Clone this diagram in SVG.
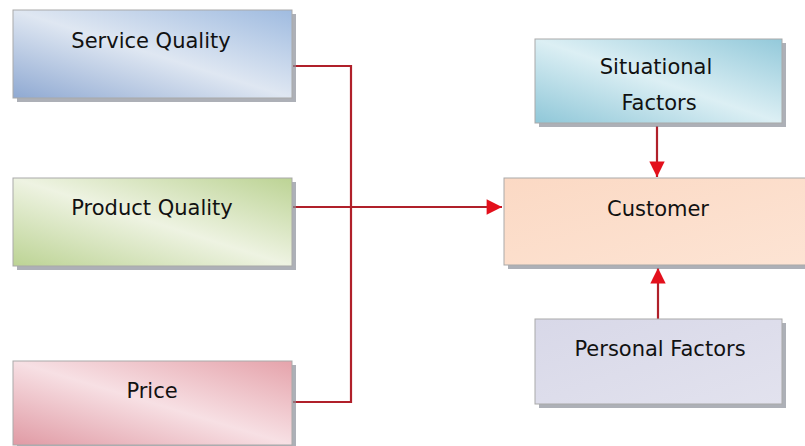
<svg xmlns="http://www.w3.org/2000/svg" width="805" height="446" viewBox="0 0 805 446">
<style>
.lbl{font-family:"DejaVu Sans","Liberation Sans",sans-serif;font-size:21px;fill:#111;text-anchor:middle}
.shadow{fill:#8a8f98;opacity:0.7}
.edge{stroke:#a9a9a9;stroke-width:1}
.conn{fill:none;stroke:#b0202a;stroke-width:2.2}
</style>
<defs>
<linearGradient id="gBlue" x1="0" y1="1" x2="1" y2="0"><stop offset="0" stop-color="#8fa9d2"/><stop offset="0.5" stop-color="#dfe7f2"/><stop offset="1" stop-color="#9fbbe0"/></linearGradient>
<linearGradient id="gGreen" x1="0" y1="1" x2="1" y2="0"><stop offset="0" stop-color="#bcd394"/><stop offset="0.5" stop-color="#eef3e2"/><stop offset="1" stop-color="#bcd394"/></linearGradient>
<linearGradient id="gRed" x1="0" y1="1" x2="1" y2="0"><stop offset="0" stop-color="#e09aa4"/><stop offset="0.5" stop-color="#f7e0e4"/><stop offset="1" stop-color="#e5a3ab"/></linearGradient>
<linearGradient id="gCyan" x1="0" y1="1" x2="1" y2="0"><stop offset="0" stop-color="#8fc7d8"/><stop offset="0.5" stop-color="#dceff4"/><stop offset="1" stop-color="#93c9da"/></linearGradient>
<linearGradient id="gPeach" x1="0" y1="0" x2="1" y2="1"><stop offset="0" stop-color="#fbd9c4"/><stop offset="1" stop-color="#fde4d4"/></linearGradient>
<linearGradient id="gLav" x1="0" y1="0" x2="1" y2="1"><stop offset="0" stop-color="#d8d8e8"/><stop offset="1" stop-color="#e2e2ee"/></linearGradient>
<marker id="arr" viewBox="0 0 10 10" refX="10" refY="5" markerWidth="7.5" markerHeight="7" markerUnits="strokeWidth" orient="auto"><path d="M0,0 L10,5 L0,10 z" fill="#e3101c"/></marker>
</defs>
<g id="connectors">
<polyline class="conn" points="293,66 351,66 351,402 293,402"/>
<line class="conn" x1="293" y1="207" x2="502" y2="207" marker-end="url(#arr)"/>
<line class="conn" x1="657" y1="126" x2="657" y2="177" marker-end="url(#arr)"/>
<line class="conn" x1="658" y1="319" x2="658" y2="268" marker-end="url(#arr)"/>
</g>
<g id="service-quality">
<rect class="shadow" x="17" y="14" width="279" height="88"/>
<rect class="edge" x="13" y="10" width="279" height="88" fill="url(#gBlue)"/>
<text class="lbl" x="151" y="48">Service Quality</text>
</g>
<g id="product-quality">
<rect class="shadow" x="17" y="182" width="279" height="88"/>
<rect class="edge" x="13" y="178" width="279" height="88" fill="url(#gGreen)"/>
<text class="lbl" x="152" y="215">Product Quality</text>
</g>
<g id="price">
<rect class="shadow" x="17" y="365" width="279" height="84"/>
<rect class="edge" x="13" y="361" width="279" height="84" fill="url(#gRed)"/>
<text class="lbl" x="152" y="398">Price</text>
</g>
<g id="situational-factors">
<rect class="shadow" x="539" y="43" width="247" height="84"/>
<rect class="edge" x="535" y="39" width="247" height="84" fill="url(#gCyan)"/>
<text class="lbl" x="656" y="74">Situational</text>
<text class="lbl" x="659" y="110">Factors</text>
</g>
<g id="customer">
<rect class="shadow" x="508" y="182" width="310" height="87"/>
<rect class="edge" x="504" y="178" width="310" height="87" fill="url(#gPeach)"/>
<text class="lbl" x="658" y="216">Customer</text>
</g>
<g id="personal-factors">
<rect class="shadow" x="539" y="323" width="247" height="85"/>
<rect class="edge" x="535" y="319" width="247" height="85" fill="url(#gLav)"/>
<text class="lbl" x="660" y="356">Personal Factors</text>
</g>
</svg>
